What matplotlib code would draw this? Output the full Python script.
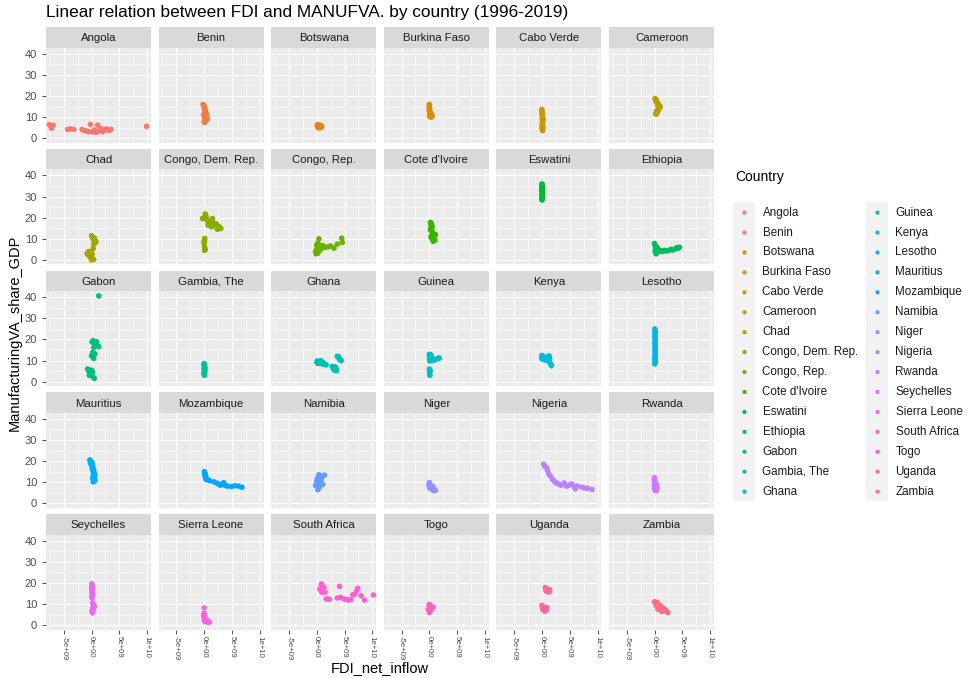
import numpy as np
import matplotlib
matplotlib.use('Agg')
import matplotlib.pyplot as plt
from matplotlib.patches import Rectangle

# FDI net inflow in billions of US$, manufacturing value added in % of GDP
countries = ['Angola', 'Benin', 'Botswana', 'Burkina Faso', 'Cabo Verde', 'Cameroon',
             'Chad', 'Congo, Dem. Rep.', 'Congo, Rep.', "Cote d'Ivoire", 'Eswatini', 'Ethiopia',
             'Gabon', 'Gambia, The', 'Ghana', 'Guinea', 'Kenya', 'Lesotho',
             'Mauritius', 'Mozambique', 'Namibia', 'Niger', 'Nigeria', 'Rwanda',
             'Seychelles', 'Sierra Leone', 'South Africa', 'Togo', 'Uganda', 'Zambia']

angola_fdi = [-7.6, -7.3, -6.9, -7.2, -4.3, -3.8, -3.2, -1.7, -1.3, -0.9, -0.5, -0.2, 0.2, 0.5, 0.8, 1.1, 1.4, 1.7, 2.0, 2.3, 2.7, 3.1, 3.5, 9.9]
angola_mva = [6.4, 5.6, 6.1, 4.7, 4.1, 4.4, 4.2, 4.1, 3.6, 3.4, 3.1, 6.5, 3.0, 3.9, 2.8, 6.2, 3.4, 4.5, 3.1, 3.8, 4.4, 3.6, 4.2, 5.6]
benin_fdi = [-0.2, 0.0, 0.1, 0.0, 0.2, 0.1, 0.3, 0.2, 0.4, 0.3, 0.5, 0.2, 0.1, 0.3, 0.6, 0.4, 0.2, 0.0, 0.1, 0.3, 0.2, -0.1, 0.4, 0.1]
benin_mva = [16.0, 15.4, 14.8, 14.2, 13.5, 13.0, 12.6, 12.0, 11.4, 11.0, 10.6, 10.2, 9.8, 9.4, 9.0, 8.6, 8.2, 7.8, 7.4, 9.2, 10.0, 11.0, 10.8, 12.2]
botswana_fdi = [0.1, 0.2, 0.3, 0.4, 0.5, 0.3, 0.6, 0.7, 0.2, 0.4, 0.8, 0.9, 0.5, 0.3, 0.6, 0.2, 0.4, 0.7, 0.5, 0.3, 0.8, 0.6, 0.4, 0.2]
botswana_mva = [6.2, 6.0, 5.8, 5.6, 5.4, 5.2, 5.0, 5.9, 6.3, 5.7, 5.5, 5.3, 6.1, 5.1, 5.6, 5.4, 5.8, 5.2, 6.0, 5.0, 5.9, 5.3, 5.5, 5.7]
burkina_fdi = [0.0, 0.01, 0.02, 0.01, 0.03, 0.02, 0.04, 0.03, 0.05, 0.1, 0.2, 0.3, 0.1, 0.05, 0.04, 0.3, 0.1, 0.4, 0.5, 0.3, 0.2, 0.4, 0.3, 0.2]
burkina_mva = [16.0, 15.5, 15.0, 14.6, 14.2, 13.8, 13.4, 13.0, 12.6, 12.2, 11.8, 11.4, 11.0, 10.6, 10.3, 10.0, 10.8, 11.2, 10.4, 10.1, 10.6, 10.9, 11.3, 12.0]
caboverde_fdi = [0.0, 0.01, 0.02, 0.03, 0.05, 0.07, 0.1, 0.15, 0.2, 0.18, 0.1, 0.08, 0.06, 0.1, 0.12, 0.09, 0.1, 0.08, 0.11, 0.12, 0.1, 0.09, 0.08, 0.05]
caboverde_mva = [13.6, 13.0, 12.4, 11.8, 11.2, 10.6, 10.0, 9.4, 8.8, 8.2, 7.6, 7.0, 6.5, 6.0, 5.6, 5.2, 4.8, 4.4, 4.0, 3.6, 4.2, 5.0, 6.2, 9.0]
cameroon_fdi = [0.1, 0.2, 0.3, 0.2, 0.4, 0.5, 0.6, 0.7, 0.8, 0.9, 1.0, 0.9, 0.8, 0.7, 0.6, 0.5, 0.4, 0.3, 0.2, 0.3, 0.5, 0.7, 0.6, 0.4]
cameroon_mva = [18.8, 18.4, 18.0, 17.6, 17.2, 16.8, 16.4, 16.0, 15.6, 15.2, 14.8, 14.4, 14.0, 13.6, 13.2, 12.8, 12.4, 12.0, 11.6, 11.3, 12.1, 14.6, 15.5, 13.0]
chad_fdi = [0.0, 0.1, 0.2, 0.3, 0.5, 0.7, 0.8, 0.6, 0.4, 0.5, -0.8, -0.6, -0.4, -0.2, 0.0, 0.2, 0.4, -0.5, -0.3, -0.1, 0.1, 0.3, 0.0, -0.2]
chad_mva = [11.5, 11.0, 10.6, 10.0, 9.5, 9.0, 8.5, 8.0, 7.6, 10.4, 3.0, 2.5, 2.0, 1.5, 1.0, 0.5, 0.2, 4.0, 3.6, 3.2, 2.8, 5.4, 0.0, 1.2]
congodr_fdi = [0.2, -0.3, 0.5, 0.0, 0.8, 1.5, 1.9, 1.3, 2.7, 3.0, 0.7, 1.1, 1.6, 2.2, 2.4, 0.4, 1.0, 0.1, 0.1, 0.0, 0.1, 0.2, 0.1, 0.0]
congodr_mva = [21.8, 19.6, 18.8, 20.0, 17.5, 19.6, 17.3, 15.7, 15.7, 14.9, 16.5, 18.5, 16.0, 17.0, 14.5, 20.5, 17.8, 10.2, 9.5, 8.6, 6.0, 5.0, 4.5, 7.8]
congor_fdi = [-0.2, 0.0, 0.1, 0.2, 0.3, 0.4, 0.5, 0.6, 0.8, 1.0, 1.3, 1.6, 2.1, 2.5, 3.1, 3.7, 4.5, 4.6, 0.4, 0.2, 0.0, 0.7, 1.1, -0.1]
congor_mva = [4.0, 5.0, 6.2, 3.2, 7.0, 5.6, 4.4, 6.6, 5.8, 6.4, 5.9, 6.0, 6.2, 6.6, 5.6, 7.5, 10.3, 8.3, 10.0, 8.0, 7.2, 5.0, 6.8, 2.9]
civ_fdi = [0.2, 0.3, 0.4, 0.3, 0.5, 0.4, 0.3, 0.2, 0.4, 0.5, 0.6, 0.7, 0.5, 0.4, 0.3, 0.6, 0.9, 1.0, 0.7, 0.5, 0.8, 1.1, 0.6, 0.4]
civ_mva = [17.8, 17.3, 16.8, 16.3, 15.8, 15.3, 14.8, 14.3, 13.8, 13.3, 12.8, 12.3, 11.8, 11.3, 10.8, 10.3, 9.8, 9.3, 8.8, 10.0, 11.0, 12.0, 13.0, 14.0]
eswatini_fdi = [0.0, 0.05, 0.1, 0.08, 0.06, 0.1, 0.03, -0.05, 0.05, 0.1, 0.07, 0.12, 0.08, 0.04, 0.09, 0.02, 0.1, 0.06, 0.03, 0.01, 0.05, 0.07, 0.11, 0.02]
eswatini_mva = [36.0, 35.6, 35.2, 34.8, 34.4, 34.0, 33.6, 33.2, 32.8, 32.4, 32.0, 31.6, 31.2, 30.8, 30.4, 30.0, 29.6, 29.2, 28.8, 28.4, 31.0, 32.5, 33.8, 35.0]
ethiopia_fdi = [0.0, 0.1, 0.2, 0.3, 0.4, 0.5, 0.2, 0.1, 0.3, 0.5, 0.8, 1.0, 1.2, 1.5, 1.8, 2.1, 2.6, 3.0, 3.3, 3.7, 4.0, 4.2, 4.5, 0.3]
ethiopia_mva = [7.8, 6.8, 5.5, 4.8, 5.2, 4.5, 3.5, 4.2, 2.9, 5.8, 4.6, 4.4, 4.0, 4.2, 4.5, 4.2, 4.6, 5.0, 4.7, 5.2, 5.8, 5.5, 6.0, 6.2]
gabon_fdi = [1.3, 0.1, 0.3, 0.5, 0.7, 0.9, 1.1, 1.3, 0.4, 0.8, 0.2, 0.6, 0.0, 0.4, -0.7, -0.5, -0.3, -0.1, 0.1, 0.3, 0.5, -0.4, 0.0, 0.2]
gabon_mva = [40.6, 18.8, 19.4, 18.2, 17.6, 19.0, 17.0, 16.6, 16.2, 18.4, 13.8, 13.2, 12.2, 11.0, 6.0, 5.0, 4.2, 3.5, 2.8, 2.2, 1.6, 3.0, 5.5, 4.6]
gambia_fdi = [0.01, 0.02, 0.03, 0.05, 0.07, 0.1, 0.08, 0.06, 0.04, 0.03, 0.05, 0.06, 0.08, 0.09, 0.04, 0.02, 0.03, 0.05, 0.07, 0.1, 0.12, 0.06, 0.04, 0.02]
gambia_mva = [8.6, 8.2, 7.8, 7.5, 7.2, 6.9, 6.6, 6.3, 6.0, 5.7, 5.4, 5.1, 4.8, 4.5, 4.2, 3.9, 3.6, 3.3, 3.0, 5.0, 6.0, 7.0, 8.0, 4.0]
ghana_fdi = [0.1, 0.2, 0.1, 0.2, 0.05, 0.3, 0.6, 0.8, 1.0, 1.2, 1.5, 1.7, 2.8, 3.0, 3.2, 3.4, 3.6, 3.3, 3.5, 3.9, 4.2, 4.4, 3.7, 4.0]
ghana_mva = [9.0, 9.5, 9.8, 8.6, 9.2, 8.8, 9.6, 9.9, 8.4, 9.0, 8.2, 8.0, 7.2, 6.0, 5.4, 6.6, 5.2, 7.0, 5.8, 11.8, 10.5, 10.0, 12.0, 11.0]
guinea_fdi = [0.0, 0.05, 0.1, 0.05, 0.1, 0.2, 0.3, 0.1, 0.2, 0.4, 0.5, 0.6, 0.9, 1.2, 1.6, 1.8, 0.3, 0.2, 0.1, 0.0, 0.15, 0.05, 0.1, 0.1]
guinea_mva = [12.8, 13.0, 12.4, 11.8, 11.2, 10.6, 10.0, 9.8, 12.0, 11.4, 10.8, 10.4, 10.2, 10.6, 11.0, 11.2, 12.6, 11.6, 10.2, 6.0, 5.0, 4.0, 3.0, 5.5]
kenya_fdi = [0.0, 0.05, 0.1, 0.02, 0.05, 0.1, 0.05, 0.1, 0.05, 0.02, 0.05, 0.7, 0.1, 0.1, 0.2, 0.3, 1.3, 1.1, 0.9, 1.4, 0.6, 1.3, 1.6, 1.7]
kenya_mva = [12.4, 12.2, 12.0, 11.8, 11.6, 11.4, 11.2, 11.0, 10.8, 11.0, 11.3, 11.5, 12.0, 11.8, 11.6, 11.2, 12.2, 11.7, 11.0, 10.8, 10.2, 9.4, 8.4, 7.6]
lesotho_fdi = [0.05, 0.1, 0.15, 0.1, 0.05, 0.1, 0.08, 0.12, 0.1, 0.06, 0.1, 0.12, 0.14, 0.1, 0.08, 0.15, 0.12, 0.1, 0.05, 0.1, 0.12, 0.08, 0.1, 0.06]
lesotho_mva = [25.0, 24.2, 23.5, 22.8, 22.0, 21.3, 20.6, 19.8, 19.0, 18.3, 17.5, 16.8, 16.0, 15.2, 14.5, 13.8, 13.0, 12.2, 11.5, 10.8, 10.1, 9.5, 8.9, 8.4]
mauritius_fdi = [-0.3, -0.2, -0.1, 0.0, 0.1, -0.2, 0.0, 0.1, 0.2, 0.1, 0.3, 0.2, 0.4, 0.3, 0.5, 0.4, 0.6, 0.3, 0.5, 0.2, 0.4, 0.6, 0.5, 0.3]
mauritius_mva = [20.6, 20.2, 19.9, 19.6, 19.3, 19.0, 18.6, 18.2, 17.6, 17.0, 16.5, 16.0, 15.4, 14.9, 14.4, 13.9, 13.4, 12.9, 12.4, 11.9, 11.4, 11.0, 10.6, 10.2]
mozambique_fdi = [0.05, 0.1, 0.15, 0.2, 0.25, 0.3, 0.1, 0.2, 0.4, 0.3, 0.5, 1.0, 1.8, 2.3, 2.9, 3.6, 3.5, 4.2, 4.9, 5.6, 6.2, 6.8, 2.6, 3.9]
mozambique_mva = [15.0, 14.5, 14.0, 13.6, 13.0, 12.4, 13.8, 12.8, 12.0, 11.6, 11.2, 10.8, 10.2, 9.6, 8.6, 8.8, 9.8, 8.2, 8.0, 8.4, 8.2, 7.7, 9.2, 8.5]
namibia_fdi = [0.1, 0.2, 0.0, 0.1, 0.3, 0.2, 0.1, 0.3, 0.4, 0.3, 0.4, 0.7, 0.5, 0.5, 0.8, 1.1, 1.4, 0.8, 0.4, 1.1, 0.5, 0.3, 0.2, -0.2]
namibia_mva = [11.5, 11.0, 10.6, 10.2, 9.8, 10.4, 11.2, 12.0, 12.6, 13.0, 13.6, 12.8, 12.2, 11.8, 12.5, 13.0, 13.4, 11.0, 10.0, 9.0, 8.0, 7.2, 6.5, 8.5]
niger_fdi = [0.0, 0.02, 0.01, 0.0, 0.01, 0.02, 0.03, 0.05, 0.1, 0.05, 0.1, 0.2, 0.3, 0.8, 0.9, 1.1, 0.8, 0.7, 0.8, 0.5, 0.3, 0.3, 0.4, 0.6]
niger_mva = [9.8, 9.6, 9.4, 9.0, 8.8, 8.5, 8.2, 8.0, 7.8, 7.6, 7.4, 7.2, 7.0, 6.8, 6.5, 6.2, 6.0, 6.3, 6.6, 6.9, 7.1, 7.4, 7.7, 8.1]
nigeria_fdi = [0.3, 0.5, 0.85, 1.0, 1.25, 1.5, 1.9, 2.1, 2.4, 2.7, 3.0, 3.4, 4.0, 4.4, 4.8, 5.1, 5.4, 5.8, 6.0, 6.4, 7.2, 7.6, 8.2, 9.0]
nigeria_mva = [18.6, 17.6, 16.9, 15.6, 13.8, 13.0, 11.5, 10.8, 10.0, 9.6, 9.2, 8.6, 9.7, 8.2, 8.5, 9.0, 9.2, 8.0, 6.9, 8.2, 7.7, 7.3, 7.2, 6.6]
rwanda_fdi = [0.0, 0.01, 0.02, 0.01, 0.01, 0.0, 0.0, 0.01, 0.01, 0.01, 0.03, 0.08, 0.1, 0.12, 0.25, 0.12, 0.26, 0.26, 0.46, 0.27, 0.26, 0.36, 0.38, 0.39]
rwanda_mva = [12.2, 11.6, 11.0, 10.5, 10.0, 9.6, 9.2, 8.8, 8.4, 8.0, 7.6, 7.2, 6.8, 6.4, 6.0, 6.3, 6.6, 7.0, 7.4, 7.8, 8.2, 8.6, 9.0, 6.2]
seychelles_fdi = [0.05, 0.1, 0.15, 0.1, 0.05, 0.08, 0.12, 0.2, 0.1, 0.15, 0.05, 0.1, 0.2, 0.3, 0.4, 0.35, 0.25, 0.3, 0.15, 0.1, 0.2, 0.45, 0.5, 0.3]
seychelles_mva = [19.6, 19.0, 18.4, 17.8, 17.2, 16.6, 16.0, 15.4, 14.8, 14.2, 13.6, 13.0, 10.6, 10.0, 9.4, 8.8, 8.2, 7.6, 7.0, 6.4, 5.8, 8.4, 9.0, 7.8]
sierra_fdi = [0.0, 0.0, 0.01, -0.1, 0.02, 0.01, 0.05, 0.1, 0.06, 0.08, 0.06, 0.1, 0.11, 0.22, 0.72, 0.95, 0.43, 0.69, 0.44, 0.3, 0.14, 0.4, 0.6, 0.3]
sierra_mva = [8.2, 5.6, 5.2, 4.8, 4.4, 4.0, 3.6, 3.2, 2.8, 2.6, 2.4, 2.2, 2.0, 1.8, 1.6, 1.4, 1.8, 2.0, 2.4, 2.2, 2.6, 1.6, 1.9, 2.3]
southafrica_fdi = [0.8, 1.2, 0.9, 1.7, 2.3, 4.1, 4.3, 4.9, 5.7, 6.1, 6.9, 7.4, 8.0, 8.6, 10.2, 1.3, 0.55, 1.5, 2.0, 3.7, 6.5, 5.3, 0.9, 7.2]
southafrica_mva = [19.2, 17.9, 15.6, 12.4, 12.2, 18.4, 13.2, 12.4, 11.9, 12.1, 14.8, 17.5, 14.0, 11.9, 14.3, 17.9, 17.1, 15.6, 12.4, 12.9, 14.4, 12.2, 19.5, 16.4]
togo_fdi = [0.0, 0.02, 0.03, 0.04, 0.05, 0.06, 0.05, 0.03, 0.05, 0.08, 0.1, 0.05, 0.02, 0.05, 0.09, 0.7, 0.15, 0.2, 0.05, 0.06, -0.2, 0.35, 0.05, 0.2]
togo_mva = [9.8, 9.4, 9.0, 8.7, 8.4, 8.1, 7.8, 7.5, 7.2, 6.9, 6.6, 6.3, 6.0, 7.0, 8.0, 8.5, 9.0, 7.6, 7.3, 6.8, 7.4, 8.2, 6.4, 9.2]
uganda_fdi = [0.0, 0.1, 0.2, 0.1, 0.3, 0.2, 0.4, 0.5, 0.6, 0.8, 0.3, 0.7, 0.9, 0.1, 0.6, 0.8, 1.0, 1.2, 1.3, 0.7, 1.1, 0.9, 1.0, 1.4]
uganda_mva = [9.4, 9.0, 8.6, 8.2, 7.8, 7.4, 7.0, 6.8, 6.6, 7.2, 7.6, 8.0, 8.4, 9.0, 17.8, 17.2, 16.6, 16.0, 15.8, 16.4, 17.0, 15.9, 16.2, 16.8]
zambia_fdi = [0.0, 0.1, 0.2, 0.3, 0.5, 0.4, 0.6, 0.8, 1.0, 0.7, 1.2, 1.4, 1.3, 1.6, 1.8, 2.0, 2.2, 2.4, 0.6, 1.3, 0.9, 1.1, 1.5, 0.3]
zambia_mva = [11.1, 10.8, 10.6, 10.4, 10.8, 10.0, 9.8, 9.6, 9.2, 8.8, 8.6, 8.4, 7.6, 7.8, 7.6, 7.0, 6.5, 6.0, 7.6, 6.5, 8.0, 7.2, 6.8, 9.4]

fdi_lists = [angola_fdi, benin_fdi, botswana_fdi, burkina_fdi, caboverde_fdi, cameroon_fdi,
             chad_fdi, congodr_fdi, congor_fdi, civ_fdi, eswatini_fdi, ethiopia_fdi,
             gabon_fdi, gambia_fdi, ghana_fdi, guinea_fdi, kenya_fdi, lesotho_fdi,
             mauritius_fdi, mozambique_fdi, namibia_fdi, niger_fdi, nigeria_fdi, rwanda_fdi,
             seychelles_fdi, sierra_fdi, southafrica_fdi, togo_fdi, uganda_fdi, zambia_fdi]
mva_lists = [angola_mva, benin_mva, botswana_mva, burkina_mva, caboverde_mva, cameroon_mva,
             chad_mva, congodr_mva, congor_mva, civ_mva, eswatini_mva, ethiopia_mva,
             gabon_mva, gambia_mva, ghana_mva, guinea_mva, kenya_mva, lesotho_mva,
             mauritius_mva, mozambique_mva, namibia_mva, niger_mva, nigeria_mva, rwanda_mva,
             seychelles_mva, sierra_mva, southafrica_mva, togo_mva, uganda_mva, zambia_mva]

x_ticks = [-5e9, 0, 5e9, 1e10]
x_ticklabels = ['-5e+09', '0e+00', '5e+09', '1e+10']
y_ticks = [0, 10, 20, 30, 40]


def hue_pal(n, l=65, c=100):
    # ggplot2 default discrete palette (hcl hues from 15 to 375)
    xn, yn, zn = 95.047, 100.0, 108.883
    un = 4 * xn / (xn + 15 * yn + 3 * zn)
    vn = 9 * yn / (xn + 15 * yn + 3 * zn)
    m = np.array([[3.240479, -1.537150, -0.498535],
                  [-0.969256, 1.875992, 0.041556],
                  [0.055648, -0.204043, 1.057311]])
    out = []
    for h in np.linspace(15, 375, n + 1)[:-1]:
        u = c * np.cos(np.radians(h))
        v = c * np.sin(np.radians(h))
        y = yn * ((l + 16) / 116) ** 3
        up = u / (13 * l) + un
        vp = v / (13 * l) + vn
        x = 9 * y * up / (4 * vp)
        z = -x / 3 - 5 * y + 3 * y / vp
        rgb = m @ np.array([x, y, z]) / 100
        rgb = np.where(rgb > 0.0031308, 1.055 * np.abs(rgb) ** (1 / 2.4) - 0.055, 12.92 * rgb)
        out.append(tuple(np.clip(rgb, 0, 1)))
    return out


colors = hue_pal(len(countries))

W, H = 967, 678
plt.rcParams['font.family'] = ['Liberation Sans', 'DejaVu Sans']
fig = plt.figure(figsize=(W / 100, H / 100), dpi=100)


def px_axes(x, y, w, h):
    return fig.add_axes([x / W, 1 - (y + h) / H, w / W, h / H])


pw, ph, sh = 105, 95, 20.5
for i, country in enumerate(countries):
    r, c = divmod(i, 6)
    left = 46 + c * 112.6
    top = 27 + r * 121.75

    strip = px_axes(left, top, pw, sh)
    strip.set_facecolor('#D9D9D9')
    strip.set_xticks([])
    strip.set_yticks([])
    for s in strip.spines.values():
        s.set_visible(False)
    strip.text(0.5, 0.45, country, ha='center', va='center', fontsize=8.2,
               color='#1A1A1A', transform=strip.transAxes)

    ax = px_axes(left, top + sh, pw, ph)
    ax.set_facecolor('#EBEBEB')
    for s in ax.spines.values():
        s.set_visible(False)
    ax.set_xlim(-8.19e9, 10.7e9)
    ax.set_ylim(-2.05, 42.95)
    ax.set_xticks(x_ticks)
    ax.set_xticks([-7.5e9, -2.5e9, 2.5e9, 7.5e9], minor=True)
    ax.set_yticks(y_ticks)
    ax.set_yticks([5, 15, 25, 35], minor=True)
    ax.grid(which='major', color='white', lw=0.8)
    ax.grid(which='minor', color='white', lw=0.4)
    ax.set_axisbelow(True)
    ax.tick_params(which='minor', length=0)
    ax.tick_params(which='major', length=3, width=0.6, color='#333333',
                   labelcolor='#4D4D4D', labelsize=8)

    ax.scatter(np.array(fdi_lists[i]) * 1e9, mva_lists[i], s=16,
               color=colors[i], edgecolors='none', zorder=3)

    if c == 0:
        ax.set_yticklabels([str(t) for t in y_ticks])
    else:
        ax.tick_params(left=False, labelleft=False)
    if r == 4:
        ax.set_xticklabels(x_ticklabels, rotation=-90, fontsize=5.6, va='top')
        ax.tick_params(axis='x', pad=2)
    else:
        ax.tick_params(bottom=False, labelbottom=False)

fig.text(46 / W, 1 - 12 / H, 'Linear relation between FDI and MANUFVA. by country (1996-2019)',
         fontsize=12.4, color='black', ha='left', va='center')
fig.text(380 / W, 1 - 668 / H, 'FDI_net_inflow', fontsize=10.5, ha='center', va='center')
fig.text(15 / W, 1 - 333 / H, 'ManufacturingVA_share_GDP', fontsize=10.5,
         ha='center', va='center', rotation=90)

# legend drawn by hand in pixel coordinates
lg = fig.add_axes([0, 0, 1, 1])
lg.set_xlim(0, W)
lg.set_ylim(H, 0)
lg.axis('off')
lg.text(735, 177, 'Country', fontsize=10, ha='left', va='center')
for col, kx in enumerate([733, 866]):
    lg.add_patch(Rectangle((kx, 202), 22, 299, facecolor='#F2F2F2', edgecolor='none'))
for i, country in enumerate(countries):
    col, row = divmod(i, 15)
    kx = [744.5, 877.5][col]
    ky = 212.6 + row * 19.93
    lg.scatter([kx], [ky], s=9, color=colors[i], edgecolors='none')
    lg.text(kx + 18, ky, country, fontsize=8.4, ha='left', va='center', color='#1A1A1A')

fig.savefig('out.png', dpi=100)
